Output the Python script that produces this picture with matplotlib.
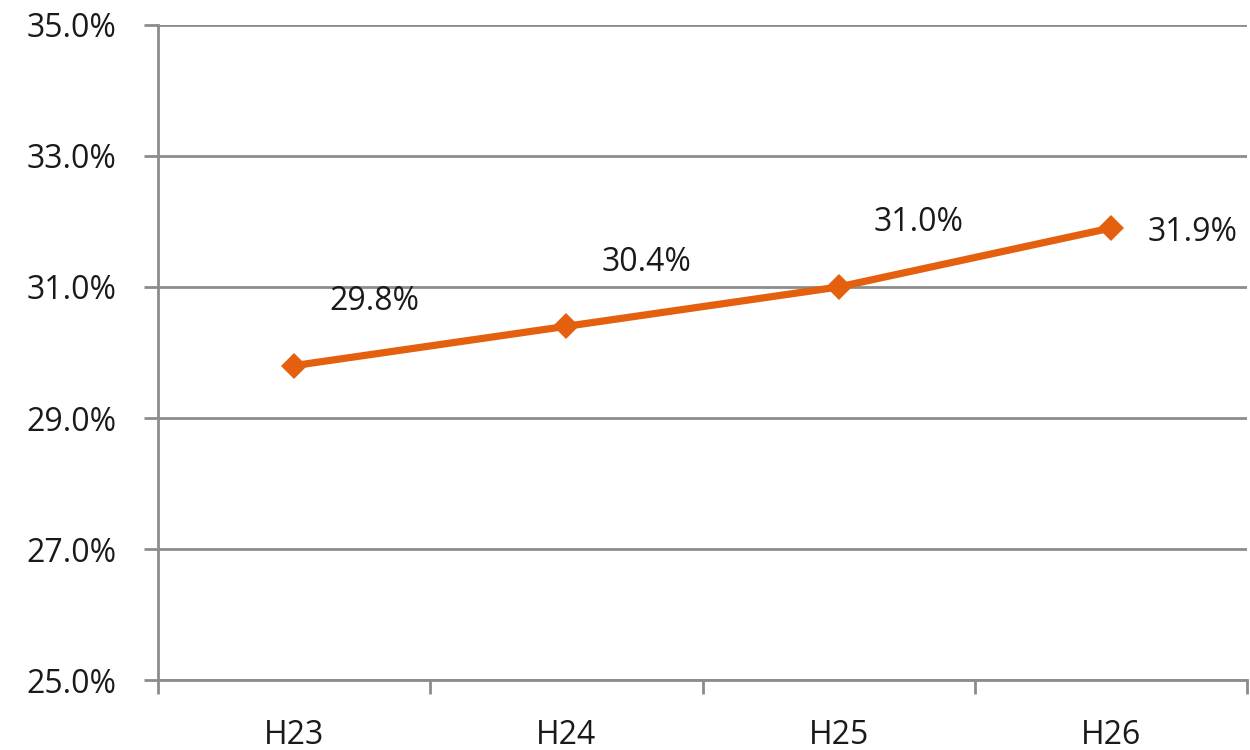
import matplotlib
matplotlib.use("Agg")
import matplotlib.pyplot as plt
from matplotlib.ticker import FixedLocator, PercentFormatter

categories = ["H23", "H24", "H25", "H26"]
values = [29.8, 30.4, 31.0, 31.9]
y_ticks = [25.0, 27.0, 29.0, 31.0, 33.0, 35.0]

plt.rcParams["font.family"] = ["Open Sans", "DejaVu Sans"]

line_color = "#E4600E"
axis_color = "#8C8C8C"
text_color = "#1A1A1A"
font_size = 23

fig = plt.figure(figsize=(12.5, 7.5), dpi=100)
ax = fig.add_axes([0.1264, 0.0933, 0.8712, 0.8734])

x = list(range(len(categories)))
ax.plot(x, values, color=line_color, lw=5.2, marker="D", ms=13,
        markeredgewidth=0, solid_joinstyle="miter", zorder=3)

# value labels: above-right for the first points, right of the last one
for i, v in enumerate(values):
    if i < len(values) - 1:
        off = (80, 64)
    else:
        off = (82, -4)
    ax.annotate(f"{v:.1f}%", (i, v), xytext=off, textcoords="offset pixels",
                ha="center", va="center", fontsize=font_size, color=text_color)

ax.set_xlim(-0.5, len(categories) - 0.5)
ax.set_ylim(y_ticks[0], y_ticks[-1])

ax.yaxis.set_major_locator(FixedLocator(y_ticks))
ax.yaxis.set_major_formatter(PercentFormatter(decimals=1))
ax.grid(axis="y", color=axis_color, lw=2)
ax.set_axisbelow(True)

ax.set_xticks(x)
ax.set_xticklabels(categories)
ax.xaxis.set_minor_locator(FixedLocator([i - 0.5 for i in range(len(categories) + 1)]))
ax.tick_params(axis="x", which="major", length=0, pad=28, labelsize=font_size, labelcolor=text_color)
ax.tick_params(axis="x", which="minor", length=10, width=2, color=axis_color, direction="out")
ax.tick_params(axis="y", length=10, width=2, color=axis_color, pad=20, labelsize=font_size,
               labelcolor=text_color, direction="out")

for side in ("top", "right"):
    ax.spines[side].set_visible(False)
for side in ("left", "bottom"):
    ax.spines[side].set_color(axis_color)
    ax.spines[side].set_linewidth(2)

fig.savefig("out.png", dpi=100, facecolor="white")
